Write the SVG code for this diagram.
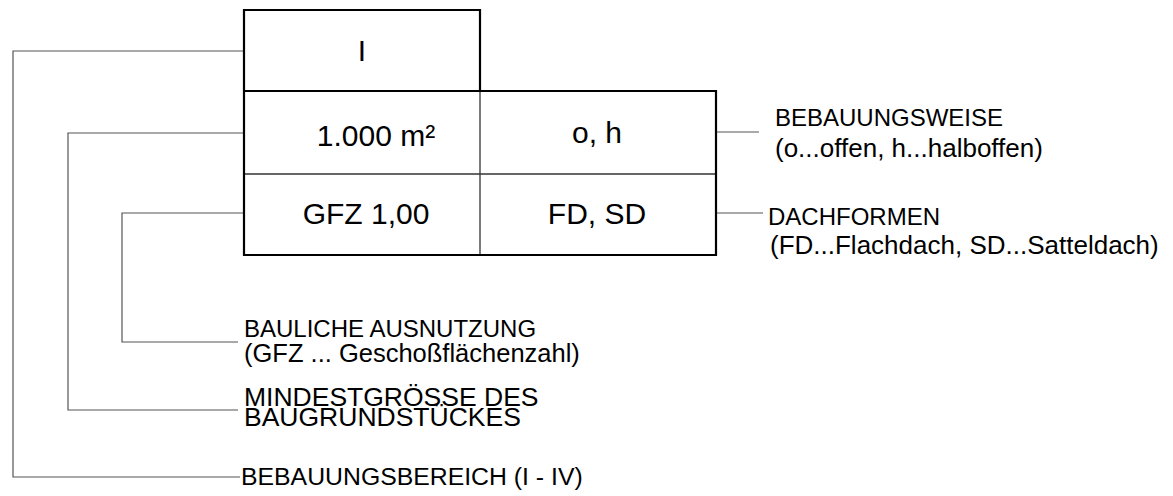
<svg xmlns="http://www.w3.org/2000/svg" width="1173" height="496" viewBox="0 0 1173 496">
  <style>
    .frame { fill: none; stroke: #000; stroke-width: 2.2; }
    .grid { fill: none; stroke: #333; stroke-width: 1.3; }
    .leader { fill: none; stroke: #555; stroke-width: 1.2; }
    .cell { font-family: "Liberation Sans", Arial, sans-serif; font-size: 30px; fill: #000; text-anchor: middle; }
    .label { font-family: "Liberation Sans", Arial, sans-serif; font-size: 24px; fill: #000; }
  </style>
  <rect width="1173" height="496" fill="#fff"/>

  <!-- leader lines from the key to the legend entries -->
  <g id="connectors">
    <polyline class="leader" points="244,51 13,51 13,477 240,477"/>
    <polyline class="leader" points="244,133 68,133 68,410 238,410"/>
    <polyline class="leader" points="244,213 122,213 122,342 238,342"/>
    <line class="leader" x1="716" y1="132" x2="759" y2="132"/>
    <line class="leader" x1="716" y1="213" x2="763" y2="213"/>
  </g>

  <!-- nutzungsschablone (zoning key) -->
  <g id="key">
    <line class="grid" x1="244" y1="174" x2="716" y2="174"/>
    <line class="grid" x1="480" y1="91" x2="480" y2="255"/>
    <line class="frame" x1="244" y1="91" x2="716" y2="91"/>
    <path class="frame" d="M244,10 H480 V91 H716 V255 H244 Z"/>
  </g>
  <g id="cell-bebauungsbereich"><text class="cell" x="362" y="61">I</text></g>
  <g id="cell-mindestgroesse"><text class="cell" x="376" y="146">1.000 m²</text></g>
  <g id="cell-bebauungsweise"><text class="cell" x="597" y="143">o, h</text></g>
  <g id="cell-ausnutzung"><text class="cell" x="366" y="224">GFZ 1,00</text></g>
  <g id="cell-dachformen"><text class="cell" x="597" y="224">FD, SD</text></g>

  <!-- legend entries -->
  <g id="label-bebauungsweise">
    <text class="label" x="775" y="126">BEBAUUNGSWEISE</text>
    <text class="label" x="775" y="157" style="font-size:26px">(o...offen, h...halboffen)</text>
  </g>
  <g id="label-dachformen">
    <text class="label" x="768" y="225">DACHFORMEN</text>
    <text class="label" x="770" y="254" style="font-size:26px">(FD...Flachdach, SD...Satteldach)</text>
  </g>
  <g id="label-ausnutzung">
    <text class="label" x="244" y="337">BAULICHE AUSNUTZUNG</text>
    <text class="label" x="244" y="362" style="font-size:25.5px">(GFZ ... Geschoßflächenzahl)</text>
  </g>
  <g id="label-mindestgroesse">
    <text class="label" x="244" y="406" style="font-size:26.5px">MINDESTGRÖSSE DES</text>
    <text class="label" x="244" y="426" style="font-size:26.5px">BAUGRUNDSTÜCKES</text>
  </g>
  <g id="label-bebauungsbereich">
    <text class="label" x="241" y="485" style="font-size:24.8px">BEBAUUNGSBEREICH (I - IV)</text>
  </g>
</svg>
